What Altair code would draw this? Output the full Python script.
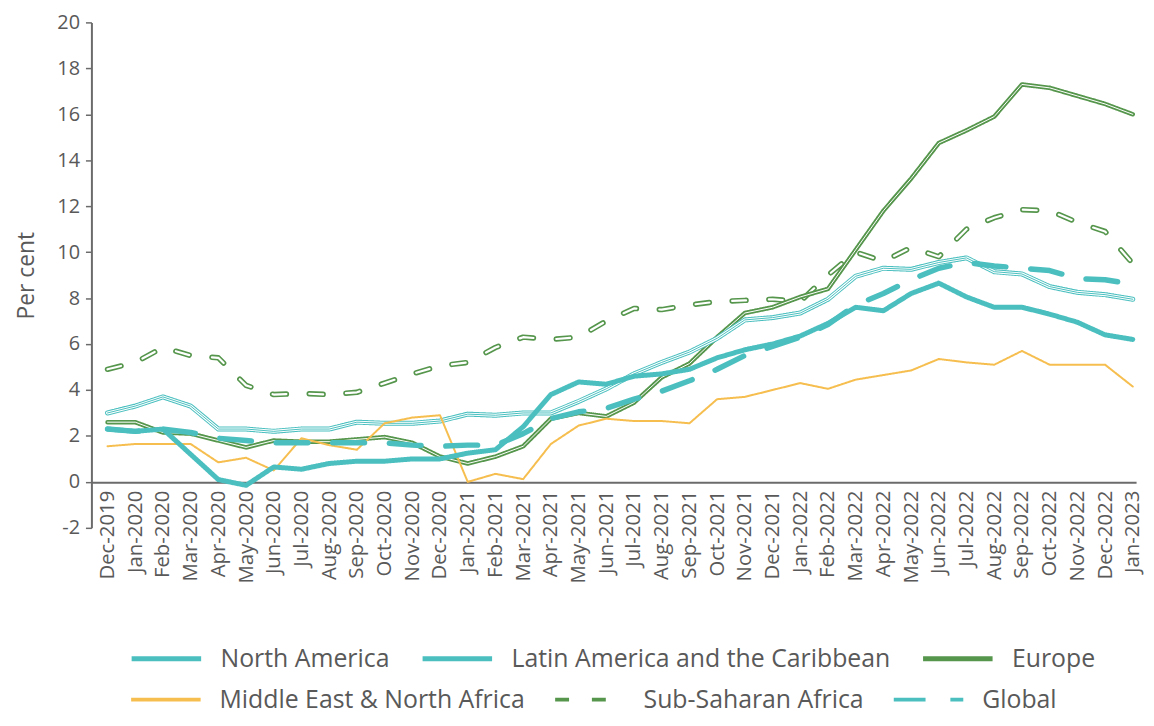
import altair as alt
import pandas as pd

months = ["Dec-2019", "Jan-2020", "Feb-2020", "Mar-2020", "Apr-2020", "May-2020", "Jun-2020",
          "Jul-2020", "Aug-2020", "Sep-2020", "Oct-2020", "Nov-2020", "Dec-2020",
          "Jan-2021", "Feb-2021", "Mar-2021", "Apr-2021", "May-2021", "Jun-2021",
          "Jul-2021", "Aug-2021", "Sep-2021", "Oct-2021", "Nov-2021", "Dec-2021",
          "Jan-2022", "Feb-2022", "Mar-2022", "Apr-2022", "May-2022", "Jun-2022",
          "Jul-2022", "Aug-2022", "Sep-2022", "Oct-2022", "Nov-2022", "Dec-2022", "Jan-2023"]

series_names = ["North America", "Latin America and the Caribbean", "Europe",
                "Middle East & North Africa", "Sub-Saharan Africa", "Global"]

north_america = [2.3, 2.2, 2.3, 1.2, 0.1, -0.15, 0.65, 0.55, 0.8, 0.9, 0.9, 1.0, 1.0,
                 1.25, 1.4, 2.4, 3.8, 4.35, 4.25, 4.6, 4.7, 4.9, 5.4, 5.75, 6.0,
                 6.35, 6.9, 7.6, 7.45, 8.2, 8.65, 8.05, 7.6, 7.6, 7.3, 6.95, 6.4, 6.2]
latin_america = [3.0, 3.3, 3.7, 3.3, 2.3, 2.3, 2.2, 2.3, 2.3, 2.6, 2.55, 2.55, 2.65,
                 2.95, 2.9, 3.0, 3.0, 3.5, 4.05, 4.7, 5.2, 5.65, 6.25, 7.05, 7.15,
                 7.35, 7.95, 8.95, 9.3, 9.25, 9.55, 9.75, 9.15, 9.05, 8.5, 8.25, 8.15, 7.95]
europe = [2.6, 2.6, 2.15, 2.1, 1.8, 1.5, 1.8, 1.75, 1.75, 1.85, 1.95, 1.7, 1.1,
          0.8, 1.1, 1.55, 2.75, 3.0, 2.85, 3.45, 4.55, 5.15, 6.3, 7.35, 7.6,
          8.05, 8.4, 10.1, 11.8, 13.2, 14.75, 15.3, 15.9, 17.3, 17.15, 16.8, 16.45, 16.0]
mena = [1.55, 1.65, 1.65, 1.65, 0.85, 1.05, 0.5, 1.9, 1.6, 1.4, 2.55, 2.8, 2.9,
        0.0, 0.35, 0.12, 1.65, 2.45, 2.75, 2.65, 2.65, 2.55, 3.6, 3.7, 4.0,
        4.3, 4.05, 4.45, 4.65, 4.85, 5.35, 5.2, 5.1, 5.7, 5.1, 5.1, 5.1, 4.15]
sub_saharan = [4.9, 5.2, 5.85, 5.5, 5.4, 4.2, 3.8, 3.85, 3.8, 3.9, 4.3, 4.7, 5.05,
               5.2, 5.85, 6.3, 6.2, 6.3, 7.0, 7.55, 7.5, 7.7, 7.85, 7.9, 7.95,
               7.85, 9.0, 10.0, 9.6, 10.2, 9.8, 11.0, 11.5, 11.85, 11.8, 11.3, 10.9, 9.5]
global_ = [2.3, 2.2, 2.3, 2.15, 1.9, 1.8, 1.7, 1.7, 1.7, 1.7, 1.7, 1.6, 1.55,
           1.6, 1.6, 2.1, 2.75, 3.05, 3.2, 3.6, 3.95, 4.4, 4.9, 5.5, 5.9,
           6.3, 6.85, 7.7, 8.2, 8.8, 9.3, 9.55, 9.4, 9.3, 9.2, 8.85, 8.8, 8.6]

y_ticks = list(range(-2, 21, 2))

all_values = [north_america, latin_america, europe, mena, sub_saharan, global_]
rows = []
for name, vals in zip(series_names, all_values):
    for m, v in zip(months, vals):
        rows.append({"month": m, "series": name, "value": v})
df = pd.DataFrame(rows)

TEAL = "#4BBFBF"
GREEN = "#55964C"
YELLOW = "#F6BE4F"
GREY = "#595959"
AXIS = "#6b6b6b"
FONT = "Open Sans"

SOLID = [1, 0]
SSA_DASH = [14, 23]
GLOBAL_DASH = [32, 25]

row1 = series_names[:3]
row2 = series_names[3:]
row_colors = {1: [TEAL, TEAL, GREEN], 2: [YELLOW, GREEN, TEAL]}
row_dashes = {1: [SOLID, SOLID, SOLID], 2: [SOLID, SSA_DASH, GLOBAL_DASH]}
row_legend_y = {1: 603, 2: 645}
row_symbol_width = {1: 5, 2: 4}


def make_legend(r):
    return alt.Legend(
        title=None, orient="none", legendX=38, legendY=row_legend_y[r],
        direction="horizontal", symbolType="stroke", symbolSize=4900,
        symbolStrokeWidth=row_symbol_width[r],
        labelFontSize=25, labelFont=FONT, labelColor=GREY, labelLimit=0,
        columnPadding=22, labelOffset=17,
    )


x = alt.X("month:N", sort=months,
          scale=alt.Scale(type="point", padding=0.35, align=0.83),
          axis=alt.Axis(title=None, labelAngle=-90, ticks=False, labelFontSize=20.5,
                        labelFont=FONT, labelColor=GREY, labelPadding=8, offset=-46,
                        domainColor=AXIS, domainWidth=2, grid=False,
                        labelOverlap=False))
y = alt.Y("value:Q", scale=alt.Scale(domain=[-2, 20], nice=False, zero=False),
          axis=alt.Axis(values=y_ticks, title="Per cent", titleFontSize=23,
                        titleFont=FONT, titleFontWeight="normal", titleColor=GREY,
                        titlePadding=18, labelFontSize=20, labelFont=FONT,
                        labelColor=GREY, labelPadding=6, tickSize=6,
                        labelExpr="'' + datum.value",
                        tickColor=AXIS, tickWidth=1.5, domainColor=AXIS,
                        domainWidth=2, grid=False))

base = alt.Chart(df)


def main_layer(name, width, show_legend=False):
    r = 1 if name in row1 else 2
    dom = row1 if r == 1 else row2
    leg = make_legend(r) if show_legend else None
    col = alt.Color("series:N", scale=alt.Scale(domain=dom, range=row_colors[r]), legend=leg)
    dsh = alt.StrokeDash("series:N", scale=alt.Scale(domain=dom, range=row_dashes[r]),
                         legend=leg)
    return base.transform_filter(alt.datum.series == name).mark_line(
        strokeCap="round", strokeJoin="round", strokeWidth=width
    ).encode(x=x, y=y, color=col, strokeDash=dsh)


def overlay(name, col, w, dash=None):
    kw = dict(strokeCap="round", strokeJoin="round", color=col, strokeWidth=w)
    if dash is not None:
        kw["strokeDash"] = dash
    return base.transform_filter(alt.datum.series == name).mark_line(**kw).encode(x=x, y=y)


layers = [
    main_layer("Sub-Saharan Africa", 5.5, show_legend=True),
    overlay("Sub-Saharan Africa", "white", 2.2, SSA_DASH),
    main_layer("Europe", 4.5),
    overlay("Europe", "white", 1),
    main_layer("Latin America and the Caribbean", 5),
    overlay("Latin America and the Caribbean", "white", 3),
    overlay("Latin America and the Caribbean", TEAL, 1),
    main_layer("Middle East & North Africa", 2),
    main_layer("Global", 5.5),
    main_layer("North America", 5, show_legend=True),
]

chart = alt.layer(*layers).resolve_scale(
    color="independent", strokeDash="independent"
).properties(
    width=1052, height=509,
    autosize=alt.AutoSizeParams(type="none"),
    padding={"left": 84, "top": 12, "right": 10, "bottom": 189},
).configure_view(stroke=None)

chart.save("out.html", embed_options={"renderer": "svg", "actions": False})
